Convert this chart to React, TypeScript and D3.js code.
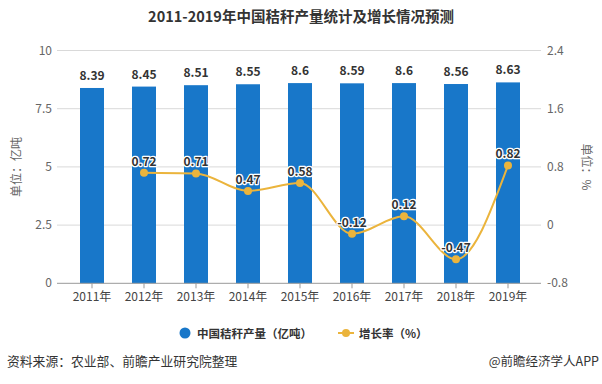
import React from "react";
import * as d3 from "d3";

const years = ["2011年", "2012年", "2013年", "2014年", "2015年", "2016年", "2017年", "2018年", "2019年"];
const output = [8.39, 8.45, 8.51, 8.55, 8.6, 8.59, 8.6, 8.56, 8.63];
const growthYears = ["2012年", "2013年", "2014年", "2015年", "2016年", "2017年", "2018年", "2019年"];
const growth = [0.72, 0.71, 0.47, 0.58, -0.12, 0.12, -0.47, 0.82];
const leftTicks = [0, 2.5, 5, 7.5, 10];
const rightTicks = [-0.8, 0, 0.8, 1.6, 2.4];

const W = 602;
const H = 384;
const FONT = "'Microsoft YaHei', 'Noto Sans CJK SC', 'Noto Sans', sans-serif";
const BAR = "#1877c9";
const LINE = "#ebb43c";

export default function App() {
  const x = d3.scalePoint<string>().domain(years).range([92, 508]);
  const yL = d3.scaleLinear().domain([0, 10]).range([283.3, 50.5]);
  const yR = d3.scaleLinear().domain([-0.8, 2.4]).range([283.3, 50.5]);
  const barW = 24;
  const gridX0 = 57;
  const gridX1 = 541;

  const line = d3
    .line<number>()
    .x((_, i) => x(growthYears[i]) as number)
    .y((d) => yR(d))
    .curve(d3.curveMonotoneX);

  return (
    <svg
      width={W}
      height={H}
      style={{ position: "absolute", left: 0, top: 0, background: "#fff" }}
      fontFamily={FONT}
    >
      <text x={301} y={22} textAnchor="middle" fontSize={14.5} fontWeight="bold" fill="#333">
        2011-2019年中国秸秆产量统计及增长情况预测
      </text>

      {leftTicks.map((t) => (
        <g key={"g" + t}>
          {t !== 0 && (
            <line x1={gridX0} x2={gridX1} y1={yL(t)} y2={yL(t)} stroke="#d9d9d9" strokeWidth={1} />
          )}
          <text x={52} y={yL(t) + 4} textAnchor="end" fontSize={12} fill="#666">
            {t}
          </text>
        </g>
      ))}
      {rightTicks.map((t) => (
        <text key={"r" + t} x={547} y={yR(t) + 4} textAnchor="start" fontSize={12} fill="#666">
          {t}
        </text>
      ))}

      <text
        transform={`translate(21,167) rotate(-90)`}
        textAnchor="middle"
        fontSize={12}
        fill="#666"
      >
        单位：亿吨
      </text>
      <text
        transform={`translate(582,167) rotate(90)`}
        textAnchor="middle"
        fontSize={12}
        fill="#666"
      >
        单位：%
      </text>

      {years.map((yr, i) => (
        <rect
          key={yr}
          x={(x(yr) as number) - barW / 2}
          y={yL(output[i])}
          width={barW}
          height={yL(0) - yL(output[i])}
          fill={BAR}
        />
      ))}

      <line x1={gridX0} x2={gridX1} y1={yL(0)} y2={yL(0)} stroke="#999" strokeWidth={1} />
      {years.map((yr) => (
        <line
          key={"t" + yr}
          x1={x(yr)}
          x2={x(yr)}
          y1={yL(0)}
          y2={yL(0) + 5}
          stroke="#999"
          strokeWidth={1}
        />
      ))}
      {years.map((yr) => (
        <text key={"xl" + yr} x={x(yr)} y={301} textAnchor="middle" fontSize={12} fill="#444">
          {yr}
        </text>
      ))}

      {years.map((yr, i) => (
        <text
          key={"bl" + yr}
          x={x(yr)}
          y={yL(output[i]) - 8}
          textAnchor="middle"
          fontSize={12}
          fontWeight="bold"
          fill="#333"
        >
          {output[i]}
        </text>
      ))}

      <path d={line(growth) || ""} fill="none" stroke={LINE} strokeWidth={2} />
      {growthYears.map((yr, i) => (
        <circle key={"c" + yr} cx={x(yr)} cy={yR(growth[i])} r={4} fill={LINE} />
      ))}
      {growthYears.map((yr, i) => (
        <text
          key={"ll" + yr}
          x={x(yr)}
          y={yR(growth[i]) - 7}
          textAnchor="middle"
          fontSize={12}
          fontWeight="bold"
          fill="#333"
          stroke="#fff"
          strokeWidth={2.5}
          paintOrder="stroke"
          strokeLinejoin="round"
        >
          {growth[i]}
        </text>
      ))}

      <circle cx={185} cy={333} r={5.5} fill={BAR} />
      <text x={197} y={337.5} fontSize={11.5} fontWeight="bold" fill="#333">
        中国秸秆产量（亿吨）
      </text>
      <line x1={338} x2={354} y1={333} y2={333} stroke={LINE} strokeWidth={2} />
      <circle cx={346} cy={333} r={4} fill={LINE} />
      <text x={359} y={337.5} fontSize={11.5} fontWeight="bold" fill="#333">
        增长率（%）
      </text>

      <text x={7} y={366} fontSize={12.8} fill="#333">
        资料来源：农业部、前瞻产业研究院整理
      </text>
      <text x={599} y={366} textAnchor="end" fontSize={12.5} fill="#333">
        @前瞻经济学人APP
      </text>
    </svg>
  );
}
